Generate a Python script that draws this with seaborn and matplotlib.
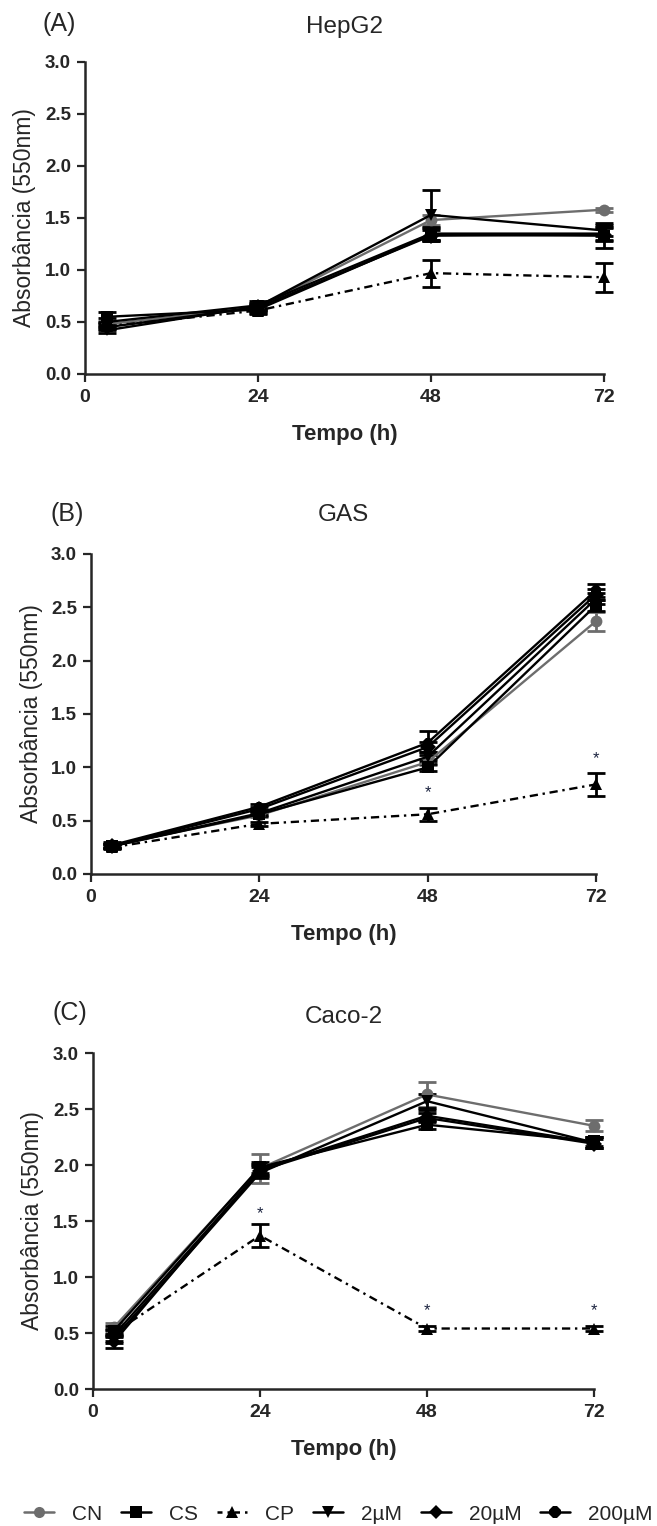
import matplotlib
matplotlib.use("Agg")
import matplotlib.pyplot as plt
from matplotlib.lines import Line2D
import numpy as np
import pandas as pd
import seaborn as sns

# ----- data -----
times = [3, 24, 48, 72]
groups = ["CN", "CS", "CP", "2µM", "20µM", "200µM"]

# rows follow the order of `groups`
hepg2_mean = [
    [0.48, 0.64, 1.48, 1.58],
    [0.55, 0.62, 1.34, 1.33],
    [0.46, 0.61, 0.97, 0.93],
    [0.42, 0.65, 1.53, 1.38],
    [0.45, 0.64, 1.33, 1.34],
    [0.50, 0.66, 1.35, 1.35],
]
hepg2_err = [
    [0.03, 0.03, 0.05, 0.02],
    [0.05, 0.04, 0.06, 0.12],
    [0.03, 0.02, 0.13, 0.14],
    [0.03, 0.03, 0.24, 0.05],
    [0.03, 0.03, 0.05, 0.06],
    [0.04, 0.04, 0.06, 0.06],
]

gas_mean = [
    [0.27, 0.55, 1.05, 2.37],
    [0.26, 0.56, 1.00, 2.52],
    [0.25, 0.47, 0.56, 0.84],
    [0.26, 0.57, 1.10, 2.58],
    [0.26, 0.61, 1.19, 2.62],
    [0.27, 0.63, 1.23, 2.66],
]
gas_err = [
    [0.02, 0.02, 0.03, 0.09],
    [0.02, 0.02, 0.03, 0.05],
    [0.02, 0.02, 0.06, 0.11],
    [0.02, 0.02, 0.04, 0.05],
    [0.02, 0.02, 0.05, 0.05],
    [0.03, 0.03, 0.11, 0.06],
]

caco_mean = [
    [0.55, 1.97, 2.63, 2.35],
    [0.52, 1.98, 2.36, 2.21],
    [0.50, 1.37, 0.54, 0.54],
    [0.45, 1.93, 2.57, 2.20],
    [0.48, 1.95, 2.42, 2.19],
    [0.42, 1.96, 2.44, 2.20],
]
caco_err = [
    [0.04, 0.13, 0.11, 0.05],
    [0.04, 0.05, 0.04, 0.04],
    [0.04, 0.10, 0.02, 0.02],
    [0.04, 0.05, 0.06, 0.05],
    [0.05, 0.05, 0.04, 0.04],
    [0.05, 0.05, 0.05, 0.05],
]

# significance marks (*)
hepg2_star_t, hepg2_star_y = [], []
gas_star_t, gas_star_y = [48, 72], [0.76, 1.08]
caco_star_t, caco_star_y = [24, 48, 72], [1.57, 0.70, 0.70]

panel_letters = ["(A)", "(B)", "(C)"]
panel_titles = ["HepG2", "GAS", "Caco-2"]

# ----- style -----
sns.set_style("ticks")
plt.rcParams["font.family"] = ["Liberation Sans", "DejaVu Sans"]

palette = {g: "black" for g in groups}
palette["CN"] = "#6d6d6d"
markers = {"CN": "o", "CS": "s", "CP": "^", "2µM": "v", "20µM": "D", "200µM": "8"}
dashes = {g: "" for g in groups}
dashes["CP"] = (3.5, 2, 1, 2)
msize = {"CN": 8, "CS": 8, "CP": 8.5, "2µM": 8.5, "20µM": 7, "200µM": 9}

W, H = 657, 1526
fig = plt.figure(figsize=(W / 100, H / 100), dpi=100)

# axes boxes in pixels: left, right, top (y=3), bottom (y=0)
boxes = [(85, 604, 62, 374), (91, 596, 554, 874), (93, 594, 1053, 1389)]
ylab_x = [25, 32, 33]   # centre of the rotated y label
letter_pos = [(43, 24), (50, 514), (52, 1013)]
title_y = [27, 515, 1017]

panels = [
    (hepg2_mean, hepg2_err, hepg2_star_t, hepg2_star_y),
    (gas_mean, gas_err, gas_star_t, gas_star_y),
    (caco_mean, caco_err, caco_star_t, caco_star_y),
]

for i, (means, errs, st, sy) in enumerate(panels):
    l, r, t, b = boxes[i]
    ax = fig.add_axes([l / W, 1 - b / H, (r - l) / W, (b - t) / H])

    df = pd.DataFrame({
        "Tempo": np.tile(times, len(groups)),
        "Abs": np.concatenate(means),
        "err": np.concatenate(errs),
        "grupo": np.repeat(groups, len(times)),
    })

    for g in groups:
        d = df[df["grupo"] == g]
        ax.errorbar(d["Tempo"], d["Abs"], yerr=d["err"], fmt="none",
                    ecolor=palette[g], elinewidth=2, capsize=6.5, capthick=2,
                    clip_on=False, zorder=2)

    sns.lineplot(data=df, x="Tempo", y="Abs", hue="grupo", style="grupo",
                 palette=palette, markers=markers, dashes=dashes,
                 hue_order=groups, style_order=groups, errorbar=None,
                 sort=False, linewidth=1.7, markersize=8.5, markeredgewidth=0,
                 legend=False, ax=ax, clip_on=False, zorder=3)

    for tt, yy in zip(st, sy):
        ax.text(tt, yy, "*", ha="center", va="center", fontsize=12,
                color="#1c2440")

    ax.set_xlim(0, 72)
    ax.set_ylim(0, 3.0)
    ax.set_xticks([0, 24, 48, 72])
    ax.set_yticks(np.arange(0, 3.01, 0.5))
    ax.set_yticklabels([f"{v:.1f}" for v in np.arange(0, 3.01, 0.5)])
    sns.despine(ax=ax)
    for s in ["left", "bottom"]:
        ax.spines[s].set_linewidth(1.8)
    ax.tick_params(axis="both", direction="out", length=6, width=1.6)
    ax.tick_params(axis="x", labelsize=14, pad=5)
    ax.tick_params(axis="y", labelsize=13.5, pad=4)
    for lab in ax.get_xticklabels() + ax.get_yticklabels():
        lab.set_fontweight("bold")

    ax.set_xlabel("Tempo (h)", fontsize=16, fontweight="bold")
    ax.xaxis.set_label_coords(0.5, -50 / (b - t))
    ax.set_ylabel("Absorbância (550nm)", fontsize=16.5, va="center")
    ax.yaxis.set_label_coords((ylab_x[i] - l) / (r - l), 0.5)

    lx, ly = letter_pos[i]
    fig.text(lx / W, 1 - ly / H, panel_letters[i], fontsize=18,
             ha="left", va="center")
    fig.text((l + r) / 2 / W, 1 - title_y[i] / H, panel_titles[i],
             fontsize=17.5, ha="center", va="center")

# shared legend along the bottom
handles = [
    Line2D([0], [0], color=palette[g], marker=markers[g], linestyle="-",
           markersize=msize[g], markeredgewidth=0, linewidth=1.8)
    for g in groups
]
handles[2].set_dashes((2, 2, 1, 2))
fig.legend(handles, groups, loc="center", bbox_to_anchor=(0.515, 1 - 1514 / H),
           ncol=6, frameon=False, fontsize=15, handlelength=1.45,
           handletextpad=0.86, columnspacing=0.9, borderpad=0)

fig.savefig("out.png", dpi=100)
